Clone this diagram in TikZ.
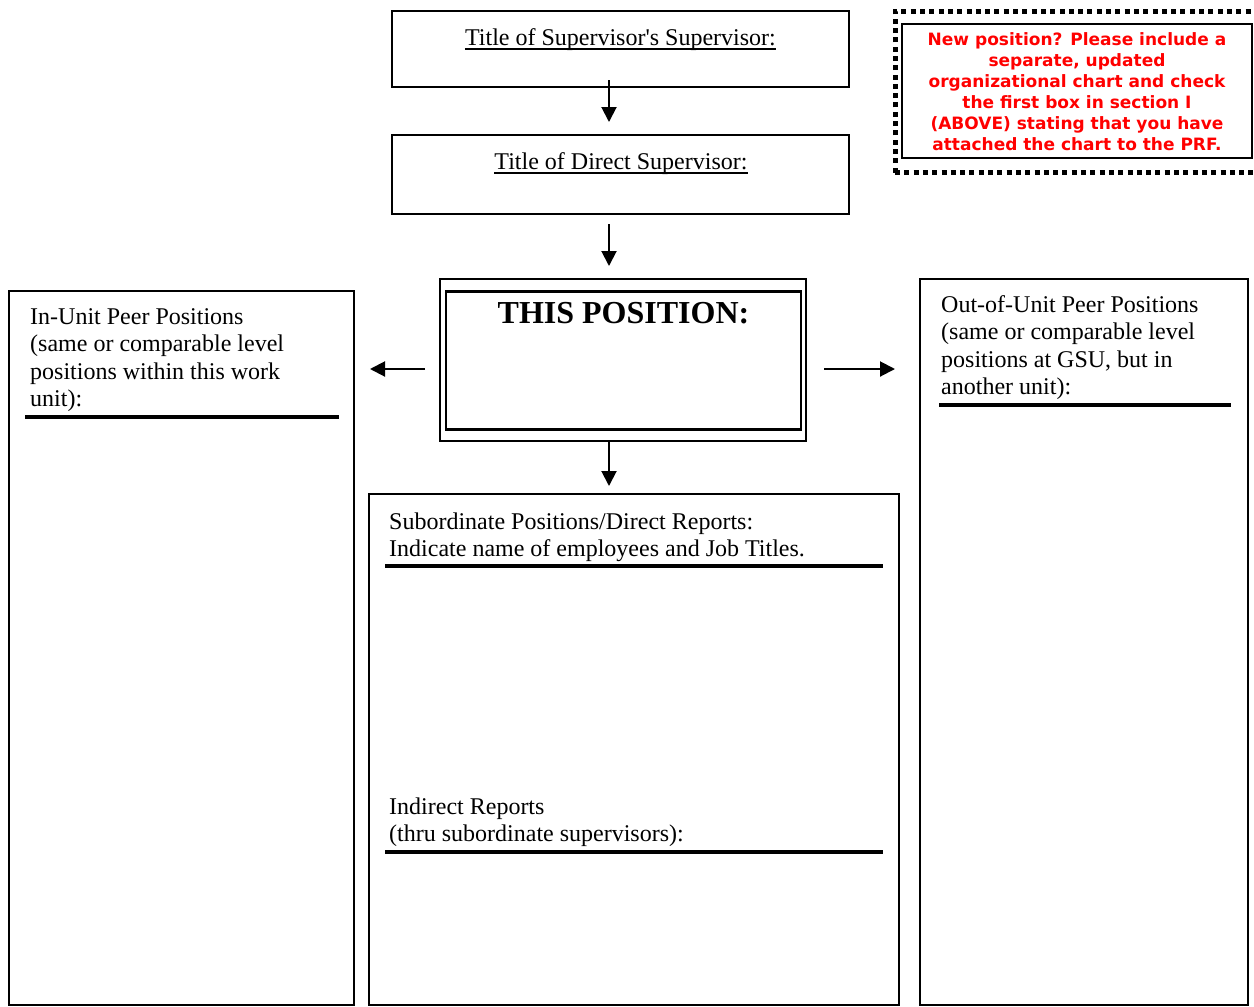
\documentclass[tikz,border=0pt]{standalone}
\usepackage{fontspec}
\setmainfont{Liberation Serif}
\newfontfamily\notefont{DejaVu Sans}
\usetikzlibrary{arrows.meta,calc}
\definecolor{notered}{RGB}{255,0,0}
\newcommand\straightq{\XeTeXglyph\the\XeTeXcharglyph"27\relax}
\begin{document}
\begin{tikzpicture}[x=1pt,y=-1pt,
  box/.style={draw,line width=1.6pt,inner sep=0pt,outer sep=0pt,anchor=north west},
  txt/.style={anchor=base west,inner sep=0pt,font=\fontsize{24}{27.5}\selectfont},
  ctxt/.style={anchor=base,inner sep=0pt,font=\fontsize{24}{27.5}\selectfont},
  rulebar/.style={line width=4pt},
  uline/.style={line width=1.2pt},
  arr/.style={line width=2pt,-{Triangle[length=15pt,width=15pt]}},
  note/.style={anchor=base,inner sep=0pt,text=notered,font=\notefont\bfseries\fontsize{17}{21}\selectfont},
  dotframe/.style={line width=5pt,dash pattern=on 5pt off 4.3pt},
]
\useasboundingbox (0,0) rectangle (1254,1007);
\fill[white] (0,0) rectangle (1254,1007);

% top boxes
\node[box,line width=2pt,minimum width=457pt,minimum height=76pt] (ss) at (392,11) {};
\node[ctxt] (sst) at (620.5,45) {Title of Supervisor\straightq s Supervisor:};
\draw[uline] ($(sst.base west)+(0,4)$) -- ($(sst.base east)+(0,4)$);

\node[box,line width=2pt,minimum width=457pt,minimum height=79pt] (ds) at (392,135) {};
\node[ctxt] (dst) at (621,169) {Title of Direct Supervisor:};
\draw[uline] ($(dst.base west)+(0,4)$) -- ($(dst.base east)+(0,4)$);

% this position
\node[box,line width=1.5pt,minimum width=366pt,minimum height=162pt] (tpo) at (440,279) {};
\node[box,line width=2.5pt,minimum width=355pt,minimum height=138pt] (tpi) at (446,291.5) {};
\node[anchor=base,inner sep=0pt,font=\fontsize{32}{36}\selectfont\bfseries] (tpt) at (623.5,323.5) {THIS POSITION:};

% side and bottom boxes
\node[box,minimum width=345pt,minimum height=714pt] (inunit) at (9,291) {};
\node[box,minimum width=328pt,minimum height=726pt] (outunit) at (920,279) {};
\node[box,minimum width=530pt,minimum height=511pt] (subs) at (369,494) {};

% left text
\node[txt] (l1) at (30,324) {In-Unit Peer Positions};
\node[txt] (l2) at (30,351.5) {(same or comparable level};
\node[txt] (l3) at (30,379) {positions within this work};
\node[txt] (l4) at (30,406.5) {unit):};
\draw[rulebar] (25,417) -- (339,417);

% right text
\node[txt] (r1) at (941,312) {Out-of-Unit Peer Positions};
\node[txt] (r2) at (941,339.5) {(same or comparable level};
\node[txt] (r3) at (941,367) {positions at GSU, but in};
\node[txt] (r4) at (941,394.5) {another unit):};
\draw[rulebar] (939,405) -- (1231,405);

% middle text
\node[txt] (m1) at (389,529) {Subordinate Positions/Direct Reports:};
\node[txt] (m2) at (389,556.5) {Indicate name of employees and Job Titles.};
\draw[rulebar] (385,566) -- (883,566);
\node[txt] (m3) at (389,814) {Indirect Reports};
\node[txt] (m4) at (389,841.5) {(thru subordinate supervisors):};
\draw[rulebar] (385,852) -- (883,852);

% note box
\draw[dotframe] (895,172.5) -- (895,11.5) -- (1262,11.5);
\draw[dotframe] (895,172.5) -- (1262,172.5);
\node[box,line width=2pt,minimum width=350pt,minimum height=134pt] (nb) at (902,24) {};
\node[note] (n1) at (1077,45.5) {New position? Please include a};
\node[note] (n2) at (1077,66.5) {separate, updated};
\node[note] (n3) at (1077,87.5) {organizational chart and check};
\node[note] (n4) at (1077,108.5) {the first box in section I};
\node[note] (n5) at (1077,129.5) {(ABOVE) stating that you have};
\node[note] (n6) at (1077,150.5) {attached the chart to the PRF.};

% arrows
\coordinate (a1e) at (609,122);
\coordinate (a2s) at (609,224);
\coordinate (a2e) at (609,266);
\coordinate (a3s) at (425,369);
\coordinate (a3e) at (370,369);
\coordinate (a4s) at (824,369);
\coordinate (a4e) at (895,369);
\coordinate (a5e) at (609,486);
\draw[arr] ([yshift=7pt]ss.south -| a1e) -- (a1e);
\draw[arr] (a2s) -- (a2e);
\draw[arr] (a3s) -- (a3e);
\draw[arr] (a4s) -- (a4e);
\draw[arr] (tpo.south -| a5e) -- (a5e);
\end{tikzpicture}
\end{document}
